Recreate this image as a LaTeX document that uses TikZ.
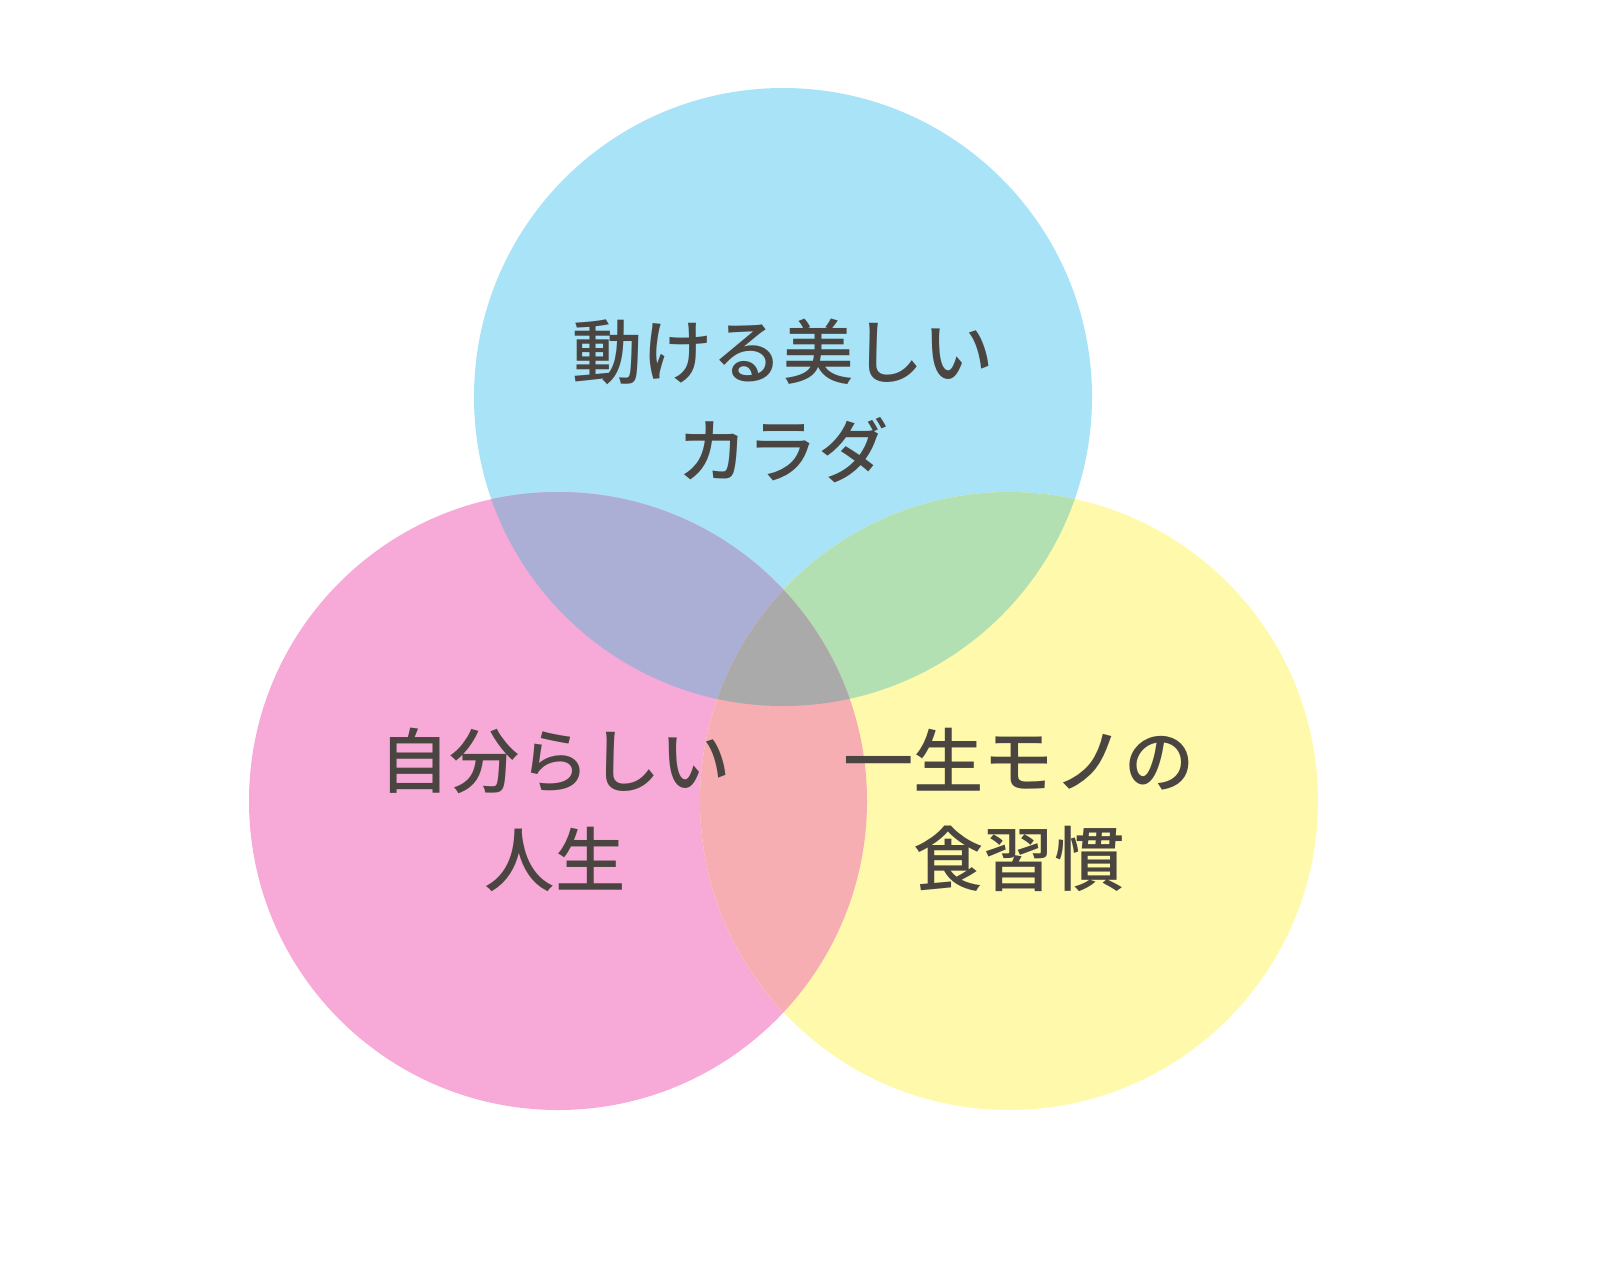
\documentclass[tikz,border=0pt]{standalone}
\usepackage{fontspec}
\newfontfamily\jpfont{Noto Sans CJK JP Medium}
\usetikzlibrary{positioning}
\definecolor{skyblue}{HTML}{A9E3F8}
\definecolor{candypink}{HTML}{F7A9D8}
\definecolor{paleyellow}{HTML}{FFFAAB}
\definecolor{bluepink}{HTML}{ABAED5}
\definecolor{blueyellow}{HTML}{B2E0B2}
\definecolor{pinkyellow}{HTML}{F7AEB3}
\definecolor{allthree}{HTML}{AAAAAA}
\definecolor{inkgray}{HTML}{4A4540}

\begin{document}
\begin{tikzpicture}[
% Text style
    venntext/.style={text=inkgray,align=center,inner sep=0pt,
		font={\jpfont\fontsize{20pt}{28pt}\selectfont}}
    ]

  \def\rad{3.09}
  \useasboundingbox (0,0) rectangle (16,12.6);

  \coordinate (ctop) at (7.83,8.63);
  \coordinate (cleft) at (5.58,4.59);
  \coordinate (cright) at (10.09,4.59);

  % circles
  \fill[skyblue] (ctop) circle (\rad);
  \fill[candypink] (cleft) circle (\rad);
  \fill[paleyellow] (cright) circle (\rad);

  % overlaps
  \begin{scope}
    \clip (ctop) circle (\rad);
    \fill[bluepink] (cleft) circle (\rad);
    \fill[blueyellow] (cright) circle (\rad);
  \end{scope}
  \begin{scope}
    \clip (cleft) circle (\rad);
    \fill[pinkyellow] (cright) circle (\rad);
  \end{scope}
  \begin{scope}
    \clip (ctop) circle (\rad);
    \clip (cleft) circle (\rad);
    \fill[allthree] (cright) circle (\rad);
  \end{scope}

  \node (body) [venntext] at (7.83,8.59) {動ける美しい\\カラダ};
  \node (life) [venntext] at (5.55,4.50) {自分らしい\\人生};
  \node (food) [venntext] at (10.19,4.50) {一生モノの\\食習慣};

\end{tikzpicture}
\end{document}
